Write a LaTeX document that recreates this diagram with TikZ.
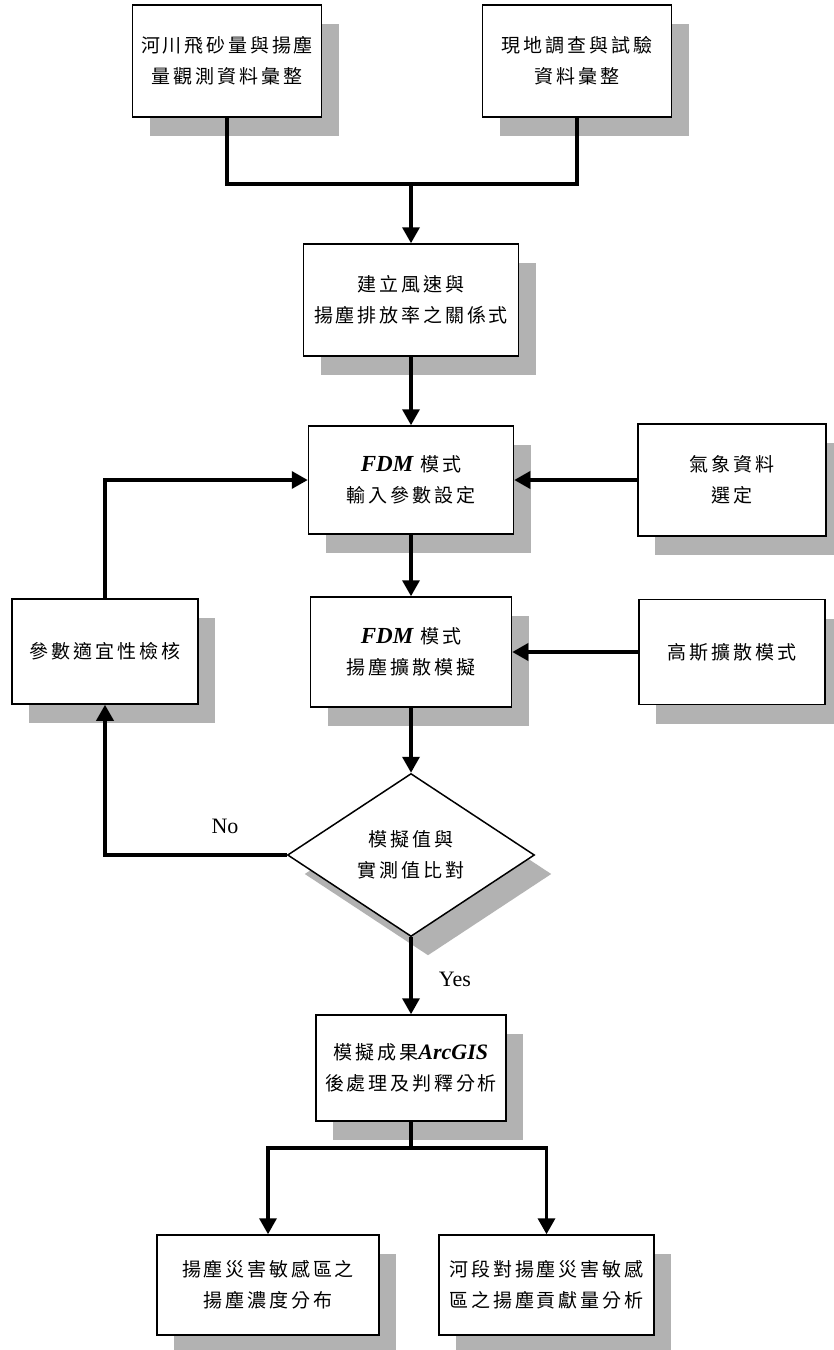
\documentclass[tikz,border=0pt]{standalone}
\usepackage{fontspec}
\setmainfont{Liberation Serif}
\newfontfamily\cjk[LetterSpace=15]{Noto Sans CJK TC}
\usetikzlibrary{arrows.meta,shapes.geometric,shadows}
\definecolor{shadowgray}{gray}{0.70}
\newcommand{\latbi}[1]{{\rmfamily\bfseries\itshape\fontsize{23}{31}\selectfont #1}}
\begin{document}
\begin{tikzpicture}[x=1pt,y=-1pt,
  box/.style={draw=black,line width=1.5pt,fill=white,inner sep=0pt,align=center,
    font=\cjk\fontsize{19}{31}\selectfont,
    drop shadow={shadow xshift=17pt,shadow yshift=-19pt,fill=shadowgray,opacity=1}},
  conn/.style={line width=3.5pt},
  arr/.style={line width=3.5pt,-{Triangle[width=17pt,length=16pt]}},
  lab/.style={font=\rmfamily\fontsize{22}{26}\selectfont}]
\path[fill=white] (0,0) rectangle (834,1350);
\useasboundingbox (0,0) rectangle (834,1350);

\node[box,minimum width=189pt,minimum height=112pt] (b1) at (227,61) {河川飛砂量與揚塵\\量觀測資料彙整};
\node[box,minimum width=189pt,minimum height=112pt] (b2) at (577,61) {現地調查與試驗\\資料彙整};
\node[box,minimum width=215pt,minimum height=112pt] (b3) at (411,300) {建立風速與\\揚塵排放率之關係式};
\node[box,minimum width=205pt,minimum height=108pt] (fdm1) at (411,480) {\latbi{FDM} 模式\\輸入參數設定};
\node[box,minimum width=188pt,minimum height=112pt] (wx) at (732,480) {氣象資料\\選定};
\node[box,minimum width=186pt,minimum height=105pt] (chk) at (105,651.5) {參數適宜性檢核};
\node[box,minimum width=201pt,minimum height=110pt] (fdm2) at (411,652) {\latbi{FDM} 模式\\揚塵擴散模擬};
\node[box,minimum width=186pt,minimum height=105pt] (gs) at (732,652) {高斯擴散模式};
\node[box,shape=diamond,minimum width=247pt,minimum height=163pt] (dia) at (411,855) {模擬值與\\實測值比對};
\node[box,minimum width=190pt,minimum height=106pt] (arc) at (411,1068) {模擬成果{\rmfamily\bfseries\itshape\fontsize{22}{31}\selectfont ArcGIS}\\後處理及判釋分析};
\node[box,minimum width=222pt,minimum height=100pt] (out1) at (268,1285) {揚塵災害敏感區之\\揚塵濃度分布};
\node[box,minimum width=215pt,minimum height=100pt] (out2) at (546.5,1285) {河段對揚塵災害敏感\\區之揚塵貢獻量分析};

\coordinate (m1) at (411,184);
\coordinate (m2) at (411,1148);

\draw[conn] (b1.south) |- (m1) -| (b2.south);
\draw[arr] (m1) -- (b3.north);
\draw[arr] (b3.south) -- (fdm1.north);
\draw[arr] (wx.west) -- (fdm1.east);
\draw[arr] (fdm1.south) -- (fdm2.north);
\draw[arr] (gs.west) -- (gs.west -| fdm2.east);
\draw[arr] (fdm2.south) -- (dia.north);
\draw[arr] (dia.west) -| (chk.south);
\draw[arr] (chk.north) |- (fdm1.west);
\draw[arr] (dia.south) -- (arc.north);
\draw[conn] (arc.south) -- (m2);
\draw[arr] (m2) -| (out1.north);
\draw[arr] (m2) -| (out2.north);

\node[lab] (no) at (225,826) {No};
\node[lab] (yes) at (455,979) {Yes};
\end{tikzpicture}
\end{document}
